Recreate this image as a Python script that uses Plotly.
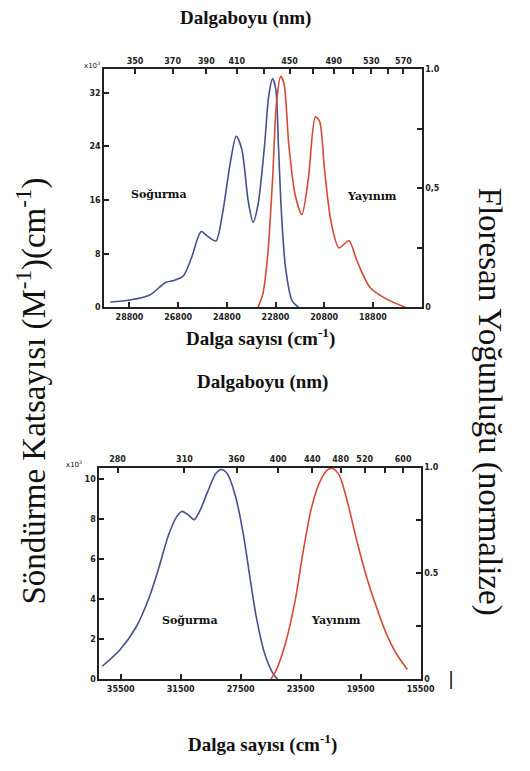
import plotly.graph_objects as go

# ---------------- Top panel data ----------------
top_abs_wn = [29588, 28788, 27988, 27320, 26988, 26588, 26252, 25852, 25588, 25252,
              24988, 24652, 24412, 24188, 23920, 23720, 23520, 23252, 23080, 22920,
              22788, 22680, 22560, 22388, 22120, 21852]
top_abs_eps = [0.8, 1.1, 1.8, 3.7, 4.0, 4.7, 7.4, 11.3, 10.6, 9.9,
               13.8, 21.7, 25.5, 23.6, 15.8, 12.7, 15.3, 24.1, 31.5, 34.1,
               32.5, 24.1, 14.3, 5.9, 1.0, 0.0]
top_em_wn = [23520, 23320, 23120, 22920, 22760, 22588, 22452, 22252, 21988, 21720,
             21452, 21160, 20988, 20788, 20520, 20188, 19788, 19452, 18920, 18252, 17452]
top_em_int = [0.0, 0.057, 0.22, 0.54, 0.86, 0.97, 0.94, 0.68, 0.47, 0.39,
              0.54, 0.80, 0.78, 0.58, 0.36, 0.25, 0.28, 0.195, 0.084, 0.036, 0.0]
top_wn_ticks = [28800, 26800, 24800, 22800, 20800, 18800]
top_wn_labels = ["28800", "26800", "24800", "22800", "20800", "18800"]
top_eps_ticks = [0, 8, 16, 24, 32]
top_int_ticks = [0, 0.25, 0.5, 0.75, 1.0]
top_int_labels = ["0", "", "0,5", "", "1.0"]
top_wl_ticks = [350, 370, 390, 410, 430, 450, 470, 490, 510, 530, 550, 570]
top_wl_labels = ["350", "370", "390", "410", "", "450", "", "490", "", "530", "", "570"]

# ---------------- Bottom panel data ----------------
bot_abs_wn = [36735, 35547, 34462, 33599, 32950, 32300, 31755, 31430, 31001, 30612,
              30242, 29700, 29158, 28793, 28404, 27859, 27320, 26884, 26457, 25911,
              25372, 25048]
bot_abs_eps = [0.64, 1.47, 2.62, 4.1, 5.6, 7.24, 8.15, 8.4, 8.23, 7.99,
               8.4, 9.39, 10.3, 10.5, 10.3, 9.2, 7.24, 5.1, 3.1, 1.3,
               0.31, 0.0]
bot_em_wn = [25482, 25157, 24508, 23858, 23317, 22776, 22236, 21695, 21370, 20937,
             20391, 19742, 19092, 18443, 17794, 17144, 16386]
bot_em_int = [0.0, 0.037, 0.17, 0.374, 0.61, 0.81, 0.93, 0.99, 0.995, 0.965,
              0.84, 0.65, 0.48, 0.34, 0.216, 0.123, 0.045]
bot_wn_ticks = [35500, 31500, 27500, 23500, 19500, 15500]
bot_wn_labels = ["35500", "31500", "27500", "23500", "19500", "15500"]
bot_eps_ticks = [0, 2, 4, 6, 8, 10]
bot_int_ticks = [0, 0.25, 0.5, 0.75, 1.0]
bot_int_labels = ["0", "", "0.5", "", "1.0"]
bot_wl_ticks = [280, 320, 360, 400, 440, 480, 520, 560, 600]
bot_wl_labels = ["280", "310", "360", "400", "440", "480", "520", "", "600"]

W, H = 530, 771
BLUE = "#47508e"
RED = "#d44a32"
SERIF = "Liberation Serif"

def px_x(x):
    return x / W

def px_y(y):
    return 1 - y / H

fig = go.Figure()
fig.add_trace(go.Scatter(x=top_abs_wn, y=top_abs_eps, xaxis="x", yaxis="y", mode="lines",
                         line=dict(color=BLUE, width=1.6, shape="spline", smoothing=0.8),
                         showlegend=False, hoverinfo="skip"))
fig.add_trace(go.Scatter(x=top_em_wn, y=top_em_int, xaxis="x2", yaxis="y2", mode="lines",
                         line=dict(color=RED, width=1.6, shape="spline", smoothing=0.8),
                         showlegend=False, hoverinfo="skip"))
fig.add_trace(go.Scatter(x=bot_abs_wn, y=bot_abs_eps, xaxis="x3", yaxis="y3", mode="lines",
                         line=dict(color=BLUE, width=1.6, shape="spline", smoothing=0.8),
                         showlegend=False, hoverinfo="skip"))
fig.add_trace(go.Scatter(x=bot_em_wn, y=bot_em_int, xaxis="x4", yaxis="y4", mode="lines",
                         line=dict(color=RED, width=1.6, shape="spline", smoothing=0.8),
                         showlegend=False, hoverinfo="skip"))

tickfont = dict(family="DejaVu Sans", size=8, color="#222", weight="bold")
common = dict(showline=True, linecolor="#222", linewidth=2, ticks="inside", ticklen=5,
              tickwidth=1.5, tickcolor="#222", showgrid=False, zeroline=False,
              tickfont=tickfont, fixedrange=True)

top_dom_x = [px_x(107), px_x(433)]
top_dom_y = [px_y(307), px_y(66)]
bot_dom_x = [px_x(102), px_x(432)]
bot_dom_y = [px_y(683), px_y(469)]
top_range = [29840, 16800]
bot_range = [36930, 15500]

fig.update_layout(
    width=W, height=H, margin=dict(l=0, r=0, t=0, b=0),
    paper_bgcolor="white", plot_bgcolor="white",
    xaxis=dict(domain=top_dom_x, anchor="y", range=top_range, tickvals=top_wn_ticks,
               ticktext=top_wn_labels, ticklabelstandoff=1, **common),
    xaxis2=dict(overlaying="x", side="top", anchor="y", range=top_range,
                tickvals=[1e7 / w for w in top_wl_ticks], ticktext=top_wl_labels, **common),
    yaxis=dict(domain=top_dom_y, anchor="x", range=[0, 35.5], tickvals=top_eps_ticks, **common),
    yaxis2=dict(overlaying="y", side="right", anchor="x", range=[0, 1.0],
                tickvals=top_int_ticks, ticktext=top_int_labels, **common),
    xaxis3=dict(domain=bot_dom_x, anchor="y3", range=bot_range, tickvals=bot_wn_ticks,
                ticktext=bot_wn_labels, ticklabelstandoff=1, **common),
    xaxis4=dict(overlaying="x3", side="top", anchor="y3", range=bot_range,
                tickvals=[1e7 / w for w in bot_wl_ticks], ticktext=bot_wl_labels, **common),
    yaxis3=dict(domain=bot_dom_y, anchor="x3", range=[0, 10.6], tickvals=bot_eps_ticks, **common),
    yaxis4=dict(overlaying="y3", side="right", anchor="x3", range=[0, 1.0],
                tickvals=bot_int_ticks, ticktext=bot_int_labels, **common),
)

ann = []
def text(x, y, s, size, angle=0, family=SERIF, weight="normal", color="#111"):
    ann.append(dict(x=px_x(x), y=px_y(y), xref="paper", yref="paper", text=s,
                    showarrow=False, textangle=angle, xanchor="center", yanchor="middle",
                    font=dict(family=family, size=size, color=color, weight=weight)))

text(252, 14, "Dalgaboyu (nm)", 19, weight="bold")
text(268, 337, "Dalga sayısı (cm<sup>-1</sup>)", 19, weight="bold")
text(270, 382, "Dalgaboyu (nm)", 19, weight="bold")
text(270, 748, "Dalga sayısı (cm<sup>-1</sup>)", 19, weight="bold")
text(32, 392, "Söndürme Katsayısı (M<sup>-1</sup>)(cm<sup>-1</sup>)", 33, angle=-90)
text(503, 402, "Floresan Yoğunluğu (normalize)", 33, angle=90)
text(163, 193, "Soğurma", 11, family="DejaVu Serif", weight="bold")
text(382, 195, "Yayınım", 11, family="DejaVu Serif", weight="bold")
text(195, 624, "Soğurma", 11, family="DejaVu Serif", weight="bold")
text(345, 624, "Yayınım", 11, family="DejaVu Serif", weight="bold")
text(94, 62, "x10<sup>3</sup>", 7, family="DejaVu Sans")
text(76, 465, "x10<sup>3</sup>", 7, family="DejaVu Sans")
text(463, 682, "|", 18, family="DejaVu Sans")
fig.update_layout(annotations=ann)

css = ("html,body{margin:0!important;padding:0!important;overflow:hidden!important;}")
post = ("var s=document.createElement('style');s.textContent=%r;document.head.appendChild(s);" % css)
fig.write_html("out.html", config={"displayModeBar": False}, post_script=post)
